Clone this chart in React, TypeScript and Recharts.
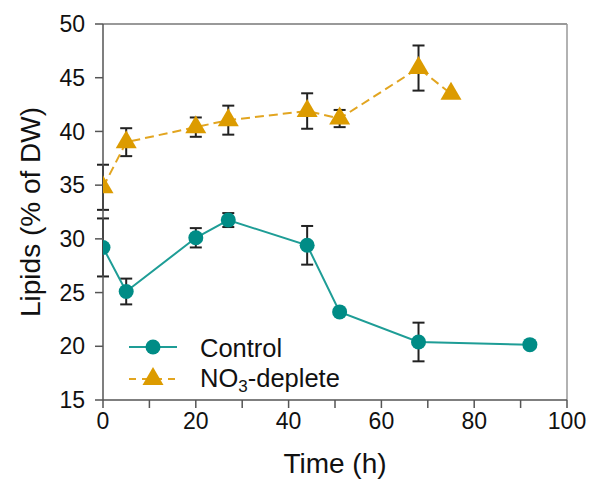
import {
  ComposedChart,
  ErrorBar,
  Legend,
  Line,
  ReferenceLine,
  XAxis,
  YAxis,
} from "recharts";

const controlTime = [0, 5, 20, 27, 44, 51, 68, 92];
const controlLipid = [29.2, 25.1, 30.1, 31.75, 29.4, 23.2, 20.4, 20.15];
const controlErr = [2.7, 1.2, 0.9, 0.65, 1.8, 0, 1.8, 0];

const no3Time = [0, 5, 20, 27, 44, 51, 68, 75];
const no3Lipid = [34.8, 39.0, 40.4, 41.05, 41.9, 41.2, 45.9, 43.5];
const no3Err = [2.1, 1.3, 0.9, 1.35, 1.65, 0.8, 2.1, 0];

const xTicks = [0, 10, 20, 30, 40, 50, 60, 70, 80, 90, 100];
const yTicks = [15, 20, 25, 30, 35, 40, 45, 50];

const TEAL = "#008c86";
const TEAL_LINE = "#1e9d96";
const GOLD = "#dc9b00";
const GOLD_LINE = "#e2a520";
const FONT = "'Liberation Sans', Arial, sans-serif";

const controlData = controlTime.map((t, i) => ({ t, v: controlLipid[i], e: controlErr[i] }));
const no3Data = no3Time.map((t, i) => ({ t, v: no3Lipid[i], e: no3Err[i] }));

function CircleDot(props: any) {
  const { cx, cy, index } = props;
  if (cx == null || cy == null) return null;
  return <circle key={`c${index}`} cx={cx} cy={cy} r={7.5} fill={TEAL} />;
}

function TriangleDot(props: any) {
  const { cx, cy, index } = props;
  if (cx == null || cy == null) return null;
  const pts = `${cx},${cy - 12} ${cx - 10.5},${cy + 6} ${cx + 10.5},${cy + 6}`;
  return <polygon key={`t${index}`} points={pts} fill={GOLD} />;
}

function LegendBox() {
  return (
    <svg width={300} height={70} style={{ overflow: "visible" }}>
      <line x1={9} x2={57} y1={18} y2={18} stroke={TEAL_LINE} strokeWidth={2} />
      <circle cx={33} cy={18} r={7.5} fill={TEAL} />
      <text x={80} y={27.5} fontSize={25.5} fontFamily={FONT} fill="#111">
        Control
      </text>
      <line x1={9} x2={57} y1={50} y2={50} stroke={GOLD_LINE} strokeWidth={2} strokeDasharray="7 6" />
      <polygon points="33,38 22.5,56 43.5,56" fill={GOLD} />
      <text x={80} y={58} fontSize={25.5} fontFamily={FONT} fill="#111">
        <tspan>NO</tspan>
        <tspan fontSize={17} dy={5}>3</tspan>
        <tspan dy={-5}>-deplete</tspan>
      </text>
    </svg>
  );
}

const tickStyle = { fill: "#111", fontSize: 23, fontFamily: FONT };

export default function App() {
  return (
    <div style={{ position: "fixed", left: 0, top: 0, background: "#fff" }}>
      <ComposedChart width={592} height={480} margin={{ top: 24, right: 25, left: 0, bottom: 0 }}>
        <XAxis
          dataKey="t"
          type="number"
          domain={[0, 100]}
          ticks={xTicks}
          allowDataOverflow
          interval={0}
          tickFormatter={(v: number) => (v % 20 === 0 ? String(v) : "")}
          tick={tickStyle}
          tickSize={8}
          tickMargin={5}
          stroke="#555"
          strokeWidth={1.5}
          height={80}
          label={{
            value: "Time (h)",
            position: "insideBottom",
            offset: 7,
            style: { fill: "#111", fontSize: 28, fontFamily: FONT },
          }}
        />
        <YAxis
          type="number"
          domain={[15, 50]}
          ticks={yTicks}
          allowDataOverflow
          interval={0}
          tick={tickStyle}
          tickSize={8}
          tickMargin={10}
          stroke="#555"
          strokeWidth={1.5}
          width={103}
          label={{
            value: "Lipids (% of DW)",
            angle: -90,
            position: "insideLeft",
            offset: 30,
            style: { fill: "#111", fontSize: 28, fontFamily: FONT, textAnchor: "middle" },
          }}
        />
        <ReferenceLine y={50} stroke="#999" strokeWidth={2} ifOverflow="extendDomain" />
        <ReferenceLine x={100} stroke="#999" strokeWidth={1.5} ifOverflow="extendDomain" />
        <Line
          data={controlData}
          dataKey="v"
          stroke={TEAL_LINE}
          strokeWidth={2}
          dot={<CircleDot />}
          activeDot={false}
          isAnimationActive={false}
          legendType="none"
        >
          <ErrorBar dataKey="e" width={6} strokeWidth={2} stroke="#222" direction="y" />
        </Line>
        <Line
          data={no3Data}
          dataKey="v"
          stroke={GOLD_LINE}
          strokeWidth={2}
          strokeDasharray="9 5"
          dot={<TriangleDot />}
          activeDot={false}
          isAnimationActive={false}
          legendType="none"
        >
          <ErrorBar dataKey="e" width={6} strokeWidth={2} stroke="#222" direction="y" />
        </Line>
        <Legend
          layout="horizontal"
          verticalAlign="middle"
          align="center"
          content={() => <LegendBox />}
          wrapperStyle={{ left: 120, top: 329, width: 300, bottom: "auto" }}
        />
      </ComposedChart>
    </div>
  );
}
